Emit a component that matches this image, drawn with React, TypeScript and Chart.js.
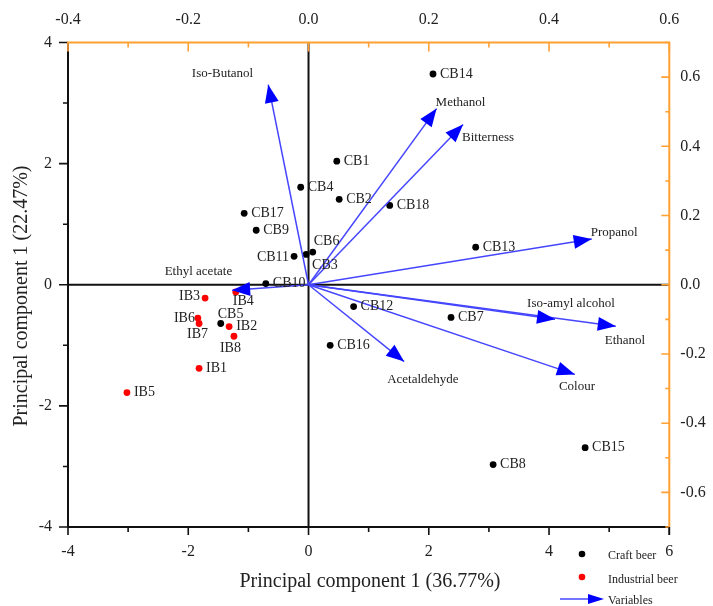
import React, { useEffect, useRef } from 'react';
import { Chart, registerables } from 'chart.js';
Chart.register(...registerables);

// ---- Data ----
const craftNames = ['CB1', 'CB2', 'CB3', 'CB4', 'CB5', 'CB6', 'CB7', 'CB8', 'CB9', 'CB10', 'CB11', 'CB12', 'CB13', 'CB14', 'CB15', 'CB16', 'CB17', 'CB18'];
const craftX = [0.47, 0.51, -0.04, -0.13, -1.46, 0.07, 2.37, 3.07, -0.87, -0.71, -0.24, 0.75, 2.78, 2.07, 4.6, 0.36, -1.07, 1.35];
const craftY = [2.04, 1.41, 0.5, 1.61, -0.64, 0.54, -0.54, -2.97, 0.9, 0.02, 0.47, -0.36, 0.62, 3.48, -2.69, -1.0, 1.18, 1.31];

const industrialNames = ['IB1', 'IB2', 'IB3', 'IB4', 'IB5', 'IB6', 'IB7', 'IB8'];
const industrialX = [-1.82, -1.32, -1.72, -1.21, -3.02, -1.84, -1.82, -1.24];
const industrialY = [-1.38, -0.69, -0.22, -0.12, -1.78, -0.55, -0.64, -0.85];

const variableNames = ['Iso-Butanol', 'Methanol', 'Bitterness', 'Propanol', 'Iso-amyl alcohol', 'Ethanol', 'Colour', 'Acetaldehyde', 'Ethyl acetate'];
const variableX = [-0.067, 0.213, 0.257, 0.471, 0.41, 0.511, 0.443, 0.159, -0.127];
const variableY = [0.578, 0.509, 0.463, 0.132, -0.1, -0.12, -0.259, -0.222, -0.016];

const bottomTicks = [-4, -2, 0, 2, 4, 6];
const leftTicks = [-4, -2, 0, 2, 4];
const topTicks = [-0.4, -0.2, 0.0, 0.2, 0.4, 0.6];
const rightTicks = [-0.6, -0.4, -0.2, 0.0, 0.2, 0.4, 0.6];

const xTitle = 'Principal component 1 (36.77%)';
const yTitle = 'Principal component 1 (22.47%)';
const legendLabels = ['Craft beer', 'Industrial beer', 'Variables'];

// ---- Label placements (style only) ----
// [dx, dy, align]
const pointLabelPlace: Record<string, [number, number, CanvasTextAlign]> = {
  CB3: [6, 11, 'left'],
  CB6: [1, -11, 'left'],
  CB5: [-3, -9, 'left'],
  CB11: [-5, 1, 'right'],
  IB3: [-5, -2, 'right'],
  IB4: [-3, 9, 'left'],
  IB6: [-3, 0, 'right'],
  IB7: [-12, 11, 'left'],
  IB8: [-14, 12, 'left'],
};
const varLabelPlace: Record<string, [number, number, CanvasTextAlign]> = {
  'Iso-Butanol': [-15, -11, 'right'],
  Methanol: [-1, -6, 'left'],
  Bitterness: [-1, 13, 'left'],
  Propanol: [-1, -6, 'left'],
  'Iso-amyl alcohol': [-28, -16, 'left'],
  Ethanol: [-11, 14, 'left'],
  Colour: [-16, 12, 'left'],
  Acetaldehyde: [-17, 18, 'left'],
  'Ethyl acetate': [0, -19, 'right'],
};

const SERIF = "'Liberation Serif', 'Times New Roman', serif";
const TEXT = '#222222';
const ORANGE = '#ffa032';
const ARROW_LINE = '#4646ff';
const ARROW_HEAD = '#0000ff';

function drawArrowHead(ctx: CanvasRenderingContext2D, x0: number, y0: number, x1: number, y1: number, len: number, half: number) {
  const a = Math.atan2(y1 - y0, x1 - x0);
  const bx = x1 - len * Math.cos(a);
  const by = y1 - len * Math.sin(a);
  ctx.beginPath();
  ctx.moveTo(x1, y1);
  ctx.lineTo(bx + half * Math.sin(a), by - half * Math.cos(a));
  ctx.lineTo(bx - half * Math.sin(a), by + half * Math.cos(a));
  ctx.closePath();
  ctx.fill();
}

const biplotPlugin = {
  id: 'biplot',
  beforeDatasetsDraw(chart: any) {
    const { ctx, chartArea, scales } = chart;
    const { left, right, top, bottom } = chartArea;
    const x = scales.x, y = scales.y;
    ctx.save();
    ctx.strokeStyle = '#111';
    ctx.lineWidth = 2;
    const zx = x.getPixelForValue(0);
    const zy = y.getPixelForValue(0);
    ctx.beginPath();
    ctx.moveTo(zx, top);
    ctx.lineTo(zx, bottom);
    ctx.moveTo(left, zy);
    ctx.lineTo(right, zy);
    ctx.stroke();
    ctx.restore();
  },
  afterDatasetsDraw(chart: any) {
    const { ctx, chartArea, scales } = chart;
    const { left, right, top, bottom } = chartArea;
    const x = scales.x, y = scales.y, x2 = scales.x2, y2 = scales.y2;
    ctx.save();

    // arrow heads + variable labels
    const ox = x2.getPixelForValue(0), oy = y2.getPixelForValue(0);
    variableNames.forEach((n, i) => {
      const px = x2.getPixelForValue(variableX[i]);
      const py = y2.getPixelForValue(variableY[i]);
      ctx.fillStyle = ARROW_HEAD;
      drawArrowHead(ctx, ox, oy, px, py, 18, 7);
      const pl = varLabelPlace[n] || [4, 0, 'left'];
      ctx.fillStyle = TEXT;
      ctx.font = `13px ${SERIF}`;
      ctx.textAlign = pl[2];
      ctx.textBaseline = 'middle';
      ctx.fillText(n, px + pl[0], py + pl[1]);
    });

    // point labels
    ctx.font = `14px ${SERIF}`;
    ctx.fillStyle = TEXT;
    ctx.textBaseline = 'middle';
    const lab = (names: string[], xs: number[], ys: number[]) => {
      names.forEach((n, i) => {
        const px = x.getPixelForValue(xs[i]);
        const py = y.getPixelForValue(ys[i]);
        const pl = pointLabelPlace[n] || [7, 0, 'left'];
        ctx.textAlign = pl[2];
        ctx.fillText(n, px + pl[0], py + pl[1]);
      });
    };
    lab(craftNames, craftX, craftY);
    lab(industrialNames, industrialX, industrialY);

    // axes lines and ticks
    ctx.lineCap = 'butt';
    ctx.strokeStyle = '#111';
    ctx.lineWidth = 2;
    ctx.beginPath();
    ctx.moveTo(left, top);
    ctx.lineTo(left, bottom + 1);
    ctx.moveTo(left - 1, bottom);
    ctx.lineTo(right, bottom);
    ctx.stroke();
    ctx.lineWidth = 1.6;
    ctx.beginPath();
    for (let v = -4; v <= 4; v += 1) {
      const py = y.getPixelForValue(v);
      const len = v % 2 === 0 ? 9 : 5;
      ctx.moveTo(left - len, py);
      ctx.lineTo(left, py);
    }
    for (let v = -4; v <= 6; v += 1) {
      const px = x.getPixelForValue(v);
      const len = v % 2 === 0 ? 8 : 5;
      ctx.moveTo(px, bottom);
      ctx.lineTo(px, bottom + len);
    }
    ctx.stroke();

    // top & right axes (orange)
    ctx.strokeStyle = ORANGE;
    ctx.lineWidth = 2;
    ctx.beginPath();
    ctx.moveTo(left - 1, top);
    ctx.lineTo(right + 1, top);
    ctx.moveTo(right, top);
    ctx.lineTo(right, bottom);
    ctx.stroke();
    ctx.lineWidth = 1.6;
    ctx.beginPath();
    for (let k = -4; k <= 6; k++) {
      const px = x2.getPixelForValue(k / 10);
      const len = k % 2 === 0 ? 9 : 5;
      ctx.moveTo(px, top);
      ctx.lineTo(px, top + len);
    }
    for (let k = -7; k <= 7; k++) {
      const py = y2.getPixelForValue(k / 10);
      const len = k % 2 === 0 ? 8 : 4;
      ctx.moveTo(right - len, py);
      ctx.lineTo(right, py);
    }
    ctx.stroke();
    ctx.strokeStyle = '#111';
    ctx.lineWidth = 1.6;
    ctx.beginPath();
    ctx.moveTo(right, bottom);
    ctx.lineTo(right, bottom + 8);
    ctx.stroke();

    // axis titles
    ctx.fillStyle = TEXT;
    ctx.font = `20px ${SERIF}`;
    ctx.textAlign = 'center';
    ctx.textBaseline = 'middle';
    ctx.fillText(xTitle, 370, 582);
    ctx.save();
    ctx.translate(22, 296);
    ctx.rotate(-Math.PI / 2);
    ctx.fillText(yTitle, 0, 0);
    ctx.restore();

    // legend
    ctx.font = `12px ${SERIF}`;
    ctx.textAlign = 'left';
    ctx.textBaseline = 'middle';
    ctx.fillStyle = '#000';
    ctx.beginPath();
    ctx.arc(582, 554, 3.3, 0, Math.PI * 2);
    ctx.fill();
    ctx.fillStyle = '#ff0000';
    ctx.beginPath();
    ctx.arc(582, 577, 3.3, 0, Math.PI * 2);
    ctx.fill();
    ctx.strokeStyle = ARROW_LINE;
    ctx.lineWidth = 1.5;
    ctx.beginPath();
    ctx.moveTo(560, 599);
    ctx.lineTo(592, 599);
    ctx.stroke();
    ctx.fillStyle = ARROW_HEAD;
    drawArrowHead(ctx, 560, 599, 604, 599, 16, 5);
    ctx.fillStyle = TEXT;
    ctx.fillText(legendLabels[0], 608, 556);
    ctx.fillText(legendLabels[1], 608, 580);
    ctx.fillText(legendLabels[2], 608, 601);

    ctx.restore();
  },
};

export default function App() {
  const ref = useRef<HTMLCanvasElement | null>(null);
  useEffect(() => {
    if (!ref.current) return;
    const tickFont = { family: SERIF, size: 16 };
    const setTicks = (arr: number[]) => (s: any) => {
      s.ticks = arr.map((v) => ({ value: v }));
    };
    const arrowSets = variableNames.map((n, i) => ({
      type: 'line' as const,
      label: n,
      data: [{ x: 0, y: 0 }, { x: variableX[i], y: variableY[i] }],
      xAxisID: 'x2',
      yAxisID: 'y2',
      borderColor: ARROW_LINE,
      borderWidth: 1.5,
      pointRadius: 0,
      fill: false,
    }));
    const chart = new Chart(ref.current, {
      type: 'scatter',
      data: {
        datasets: [
          ...arrowSets,
          {
            label: 'Craft beer',
            data: craftX.map((v, i) => ({ x: v, y: craftY[i] })),
            backgroundColor: '#000',
            borderColor: '#000',
            pointRadius: 3.4,
            borderWidth: 0,
          },
          {
            label: 'Industrial beer',
            data: industrialX.map((v, i) => ({ x: v, y: industrialY[i] })),
            backgroundColor: '#ff0000',
            borderColor: '#ff0000',
            pointRadius: 3.4,
            borderWidth: 0,
          },
        ] as any,
      },
      options: {
        responsive: false,
        animation: false,
        devicePixelRatio: 1,
        layout: { padding: 0 },
        plugins: { legend: { display: false }, tooltip: { enabled: false } },
        scales: {
          x: {
            type: 'linear',
            position: 'bottom',
            min: -4,
            max: 6,
            grid: { display: false, drawTicks: false },
            border: { display: false },
            ticks: { font: tickFont, color: TEXT, padding: 15 },
            afterBuildTicks: setTicks(bottomTicks),
            afterFit: (s: any) => { s.height = 79; },
          },
          y: {
            type: 'linear',
            position: 'left',
            min: -4,
            max: 4,
            grid: { display: false, drawTicks: false },
            border: { display: false },
            ticks: { font: tickFont, color: TEXT, padding: 16 },
            afterBuildTicks: setTicks(leftTicks),
            afterFit: (s: any) => { s.width = 68; },
          },
          x2: {
            type: 'linear',
            position: 'top',
            min: -0.4,
            max: 0.6,
            grid: { display: false, drawTicks: false },
            border: { display: false },
            ticks: { font: tickFont, color: TEXT, padding: 13, callback: (v: any) => Number(v).toFixed(1) },
            afterBuildTicks: setTicks(topTicks),
            afterFit: (s: any) => { s.height = 42.5; },
          },
          y2: {
            type: 'linear',
            position: 'right',
            min: -0.7,
            max: 0.7,
            grid: { display: false, drawTicks: false },
            border: { display: false },
            ticks: { font: tickFont, color: TEXT, padding: 11, callback: (v: any) => Number(v).toFixed(1) },
            afterBuildTicks: setTicks(rightTicks),
            afterFit: (s: any) => { s.width = 43.7; },
          },
        },
      } as any,
      plugins: [biplotPlugin],
    });
    return () => chart.destroy();
  }, []);
  return (
    <div style={{ position: 'absolute', left: 0, top: 0, width: 713, height: 606, background: '#fff' }}>
      <canvas ref={ref} width={713} height={606} style={{ width: 713, height: 606, display: 'block' }} />
    </div>
  );
}
